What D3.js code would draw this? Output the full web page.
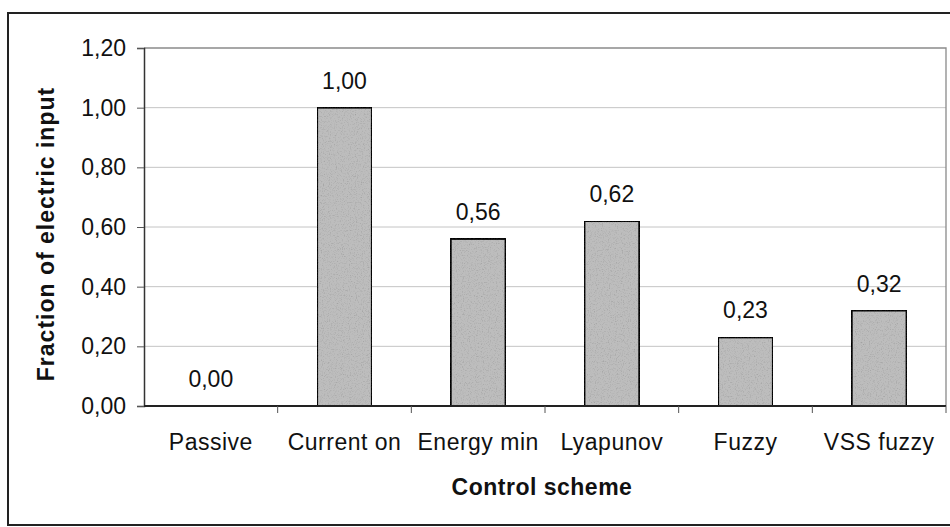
<!DOCTYPE html>
<html>
<head>
<meta charset="utf-8">
<script src="https://cdn.jsdelivr.net/npm/d3@7"></script>
<style>
  html, body { margin: 0; padding: 0; background: #fff; }
  svg { display: block; }
  text { font-family: "Liberation Sans", Arial, sans-serif; fill: #111; }
</style>
</head>
<body>
<svg id="chart" width="950" height="527"></svg>
<script>
// Fraction of electric input per control scheme
const categories = ["Passive", "Current on", "Energy min", "Lyapunov", "Fuzzy", "VSS fuzzy"];
const values = [0.00, 1.00, 0.56, 0.62, 0.23, 0.32];
const yTicks = [0, 0.2, 0.4, 0.6, 0.8, 1.0, 1.2];
const xTitle = "Control scheme";
const yTitle = "Fraction of electric input";

const fmt = v => d3.format(".2f")(v).replace(".", ",");

const svg = d3.select("#chart");
const plot = { left: 144, top: 48, right: 946, bottom: 406 };

// grain texture for the bar fill
const defs = svg.append("defs");
const grain = defs.append("filter").attr("id", "grain")
  .attr("x", 0).attr("y", 0).attr("width", 1).attr("height", 1);
grain.append("feTurbulence").attr("type", "fractalNoise")
  .attr("baseFrequency", 0.85).attr("numOctaves", 2).attr("seed", 4).attr("result", "noise");
grain.append("feColorMatrix").attr("in", "noise").attr("type", "matrix")
  .attr("values", "0 0 0 0 0  0 0 0 0 0  0 0 0 0 0  0 0 0 -0.7 0.35")
  .attr("result", "dots");
grain.append("feComposite").attr("in", "dots").attr("in2", "SourceGraphic")
  .attr("operator", "in").attr("result", "dotsIn");
const merge = grain.append("feMerge");
merge.append("feMergeNode").attr("in", "SourceGraphic");
merge.append("feMergeNode").attr("in", "dotsIn");

// outer chart frame
svg.append("rect")
  .attr("x", 8).attr("y", 13).attr("width", 960).attr("height", 512)
  .attr("fill", "none").attr("stroke", "#222").attr("stroke-width", 2);

const x = d3.scaleBand().domain(categories)
  .range([plot.left, plot.right]).paddingInner(0.59).paddingOuter(0.295);
const xCat = d3.scaleBand().domain(categories).range([plot.left, plot.right]);
const y = d3.scaleLinear().domain([0, 1.2]).range([plot.bottom, plot.top]);

// gridlines
svg.append("g").selectAll("line").data(yTicks.filter(t => t > 0 && t < 1.2)).join("line")
  .attr("x1", plot.left).attr("x2", plot.right)
  .attr("y1", d => y(d)).attr("y2", d => y(d))
  .attr("stroke", "#c4c4c4").attr("stroke-width", 1);

// plot area border (top and right)
svg.append("path")
  .attr("d", `M${plot.left},${plot.top}H${plot.right}V${plot.bottom}`)
  .attr("fill", "none").attr("stroke", "#8a8a8a").attr("stroke-width", 1.3);

// bars
svg.append("g").selectAll("rect").data(values.map((v, i) => ({ c: categories[i], v })))
  .join("rect")
  .filter(d => d.v > 0)
  .attr("x", d => x(d.c)).attr("width", x.bandwidth())
  .attr("y", d => y(d.v)).attr("height", d => y(0) - y(d.v))
  .attr("fill", "#bdbdbd").attr("stroke", "#111").attr("stroke-width", 2)
  .attr("filter", "url(#grain)");

// y axis
const yAxis = svg.append("g").attr("transform", `translate(${plot.left},0)`)
  .call(d3.axisLeft(y).tickValues(yTicks).tickSize(7).tickPadding(11).tickFormat(fmt));
yAxis.select(".domain").attr("stroke", "#333").attr("stroke-width", 1.5);
yAxis.selectAll(".tick line").attr("stroke", "#555");
yAxis.selectAll(".tick text").attr("font-size", 23)
  .attr("fill", "#111").attr("font-family", "Liberation Sans, Arial, sans-serif");

// x axis with ticks between categories
const xAxis = svg.append("g").attr("transform", `translate(0,${plot.bottom})`);
xAxis.append("line").attr("x1", plot.left).attr("x2", plot.right)
  .attr("stroke", "#222").attr("stroke-width", 2);
xAxis.selectAll("line.tk").data(categories).join("line")
  .attr("class", "tk")
  .attr("x1", d => xCat(d) + xCat.bandwidth())
  .attr("x2", d => xCat(d) + xCat.bandwidth())
  .attr("y1", 0).attr("y2", 7).attr("stroke", "#555");
xAxis.selectAll("text").data(categories).join("text")
  .attr("x", d => xCat(d) + xCat.bandwidth() / 2)
  .attr("y", 44).attr("text-anchor", "middle")
  .attr("font-size", 23).attr("letter-spacing", 0.5)
  .text(d => d);

// value labels
svg.append("g").selectAll("text").data(values.map((v, i) => ({ c: categories[i], v })))
  .join("text")
  .attr("x", d => x(d.c) + x.bandwidth() / 2)
  .attr("y", d => y(d.v) - 19)
  .attr("text-anchor", "middle").attr("font-size", 23)
  .text(d => fmt(d.v));

// axis titles
svg.append("text").attr("x", 542).attr("y", 495)
  .attr("text-anchor", "middle").attr("font-size", 23).attr("font-weight", "bold")
  .attr("letter-spacing", 0.5).text(xTitle);
svg.append("text")
  .attr("transform", "translate(54,234) rotate(-90)")
  .attr("text-anchor", "middle").attr("font-size", 23).attr("font-weight", "bold")
  .attr("letter-spacing", 1).text(yTitle);
</script>
</body>
</html>
